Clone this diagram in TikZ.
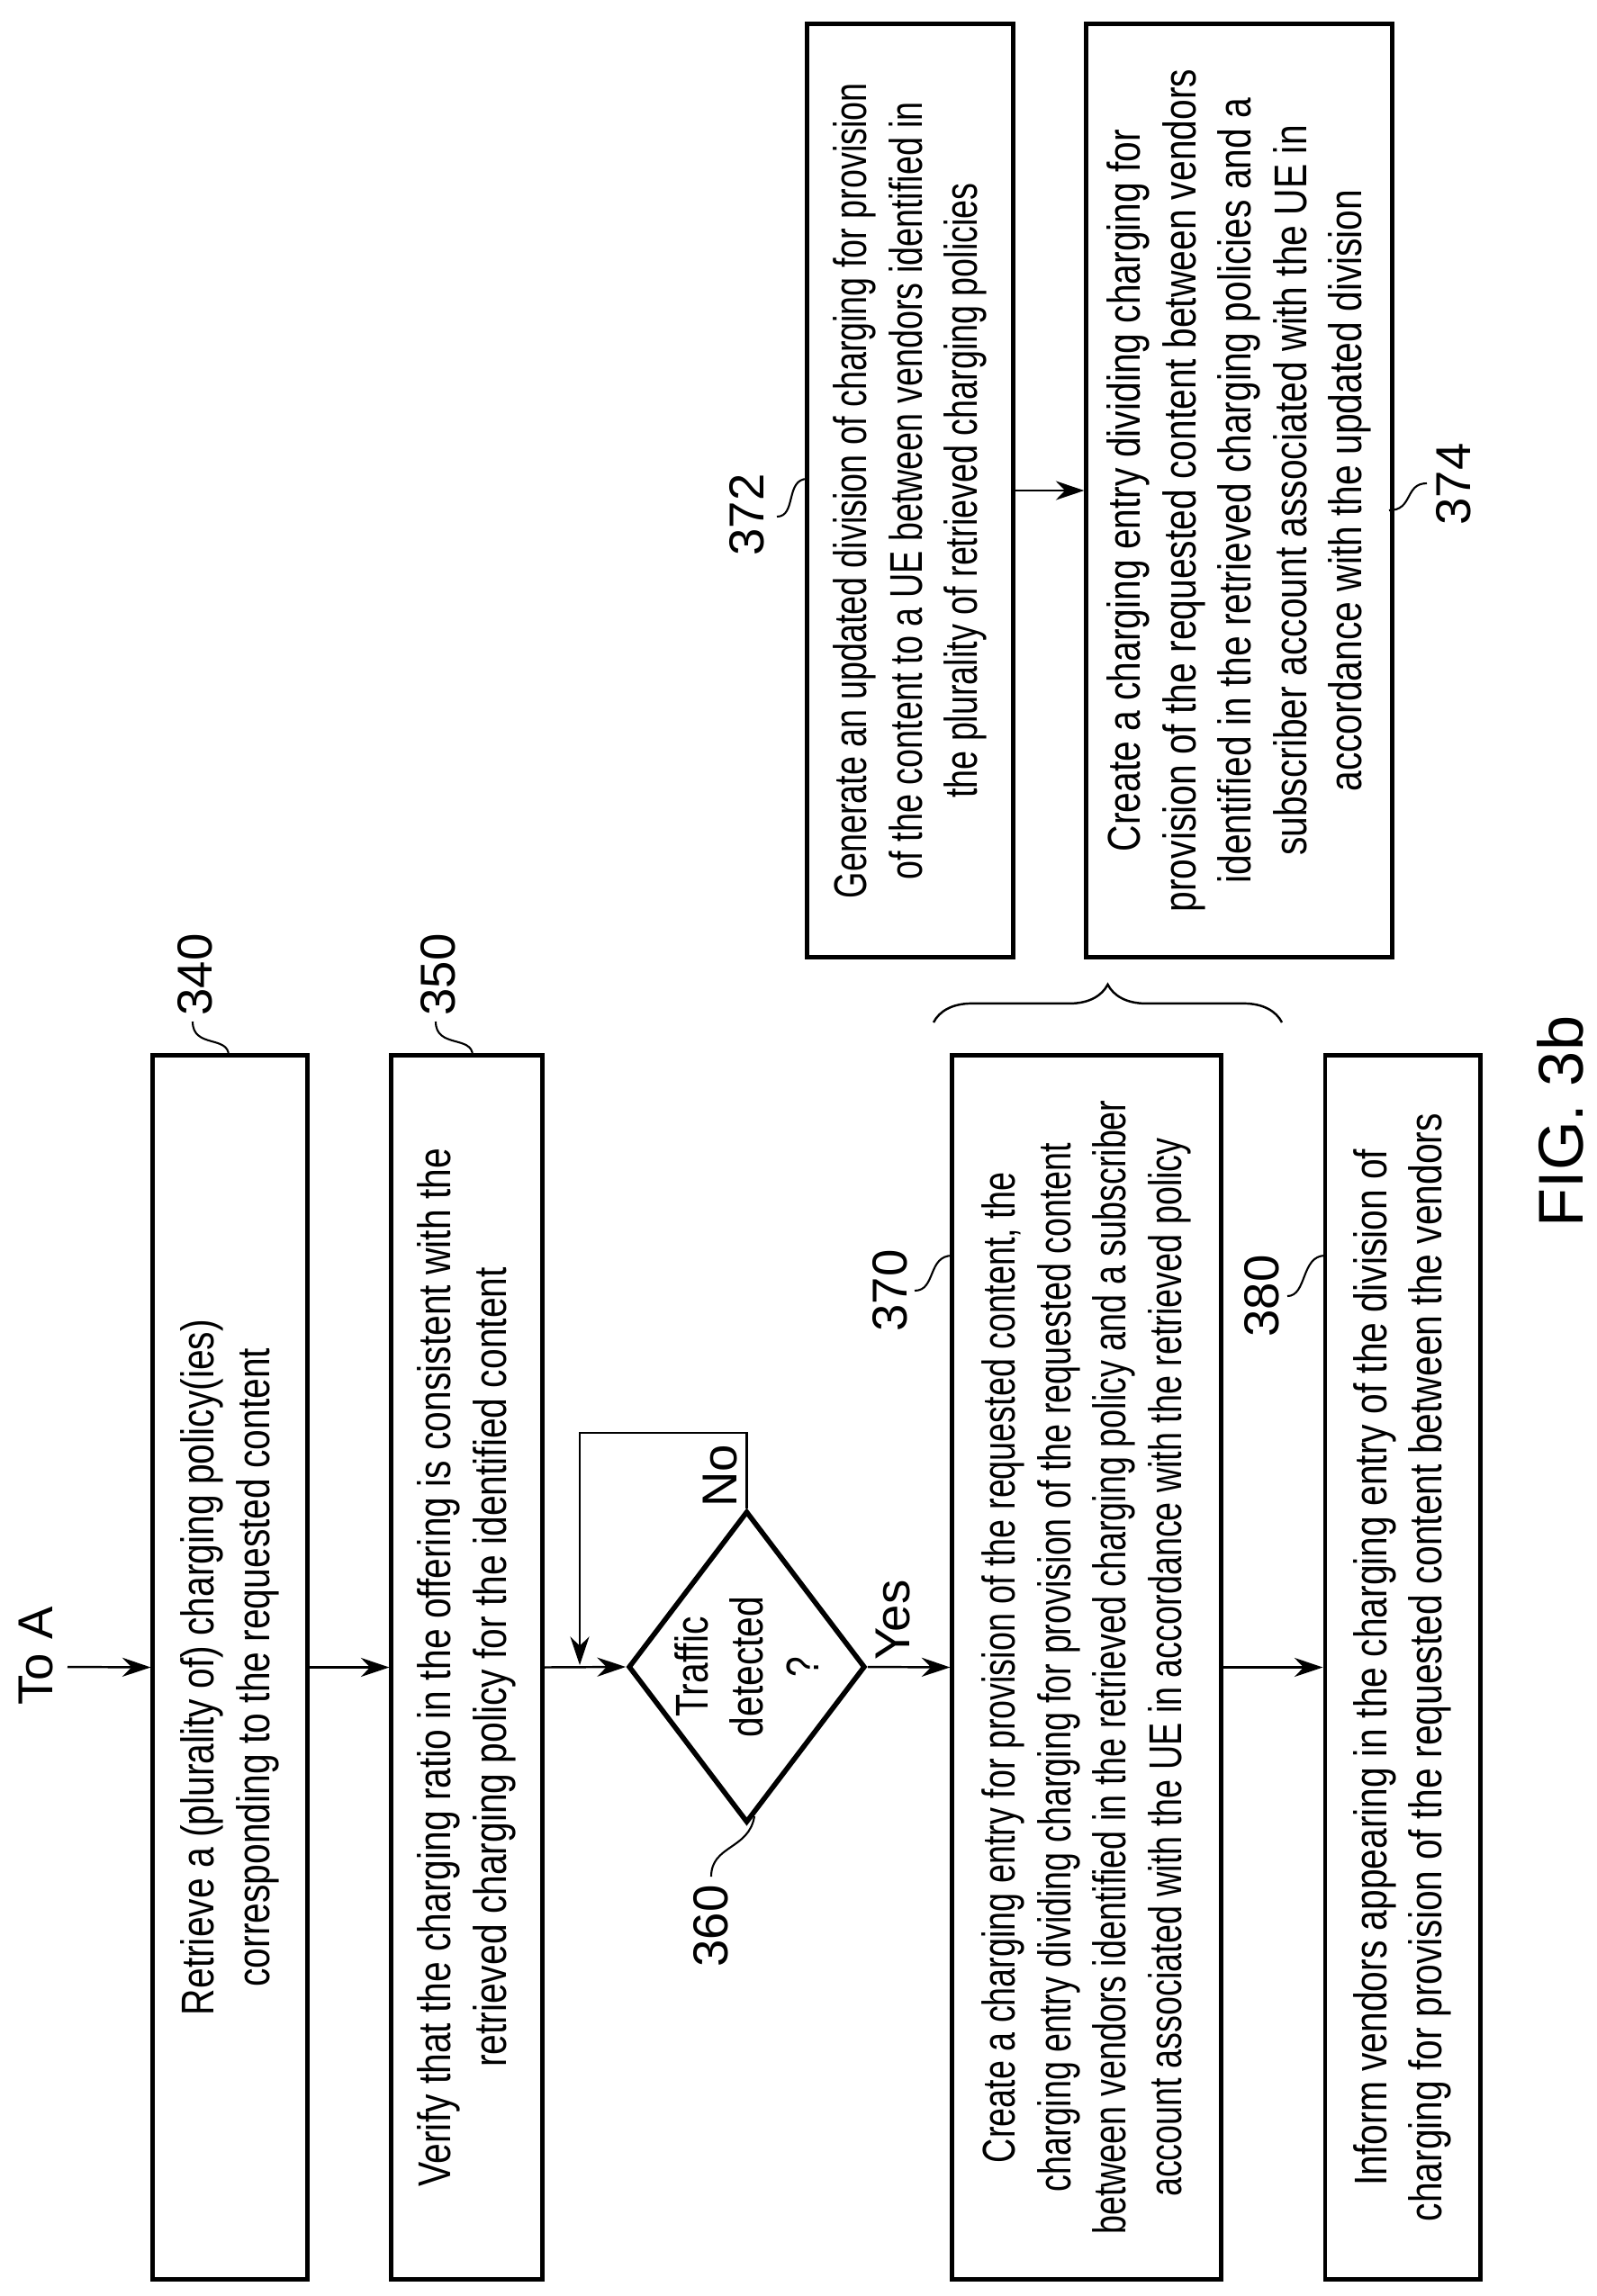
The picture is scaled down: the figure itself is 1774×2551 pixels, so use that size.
\documentclass[tikz,border=0pt]{standalone}
\usepackage{fontspec}
\setmainfont{Liberation Sans}
\newfontfamily\narrowf{Liberation Sans}[FakeStretch=0.8]
\newfontfamily\narrowg{Liberation Sans}[FakeStretch=0.74]
\usetikzlibrary{shapes.geometric,arrows.meta,decorations.pathreplacing}
\begin{document}
\begin{tikzpicture}[x=0.01cm,y=-0.01cm,
  box/.style={draw,line width=1.4pt,rotate=90,inner sep=0pt,align=center,
    font=\narrowf\fontsize{14.5}{17.5}\selectfont},
  boxg/.style={box,font=\narrowg\fontsize{14.5}{17.5}\selectfont},
  lab/.style={rotate=90,inner sep=1pt,font=\fontsize{15.5}{18}\selectfont},
  txt/.style={rotate=90,inner sep=1pt,align=center,font=\narrowf\fontsize{14.5}{17.5}\selectfont},
  arr/.style={line width=0.7pt,-{Stealth[length=9pt,width=6pt]}},
  lead/.style={line width=0.6pt}]
\useasboundingbox (0,0) rectangle (1774,2551);
% main column boxes
\node[box,minimum width=13.59cm,minimum height=1.71cm] (b340) at (255.5,1852.5)
 {Retrieve a (plurality of) charging policy(ies)\\corresponding to the requested content};
\node[box,minimum width=13.59cm,minimum height=1.67cm] (b350) at (518.5,1852.5)
 {Verify that the charging ratio in the offering is consistent with the\\retrieved charging policy for the identified content};
\node[draw,diamond,line width=1.6pt,minimum width=2.63cm,minimum height=3.46cm,inner sep=0pt] (d360) at (829.5,1852) {};
\node[txt] (t360) at (829.5,1852) {Traffic\\detected\\?};
\node[boxg,minimum width=13.59cm,minimum height=2.98cm] (b370) at (1207,1852.5)
 {Create a charging entry for provision of the requested content, the\\charging entry dividing charging for provision of the requested content\\between vendors identified in the retrieved charging policy and a subscriber\\account associated with the UE in accordance with the retrieved policy};
\node[box,minimum width=13.59cm,minimum height=1.72cm] (b380) at (1558,1852.5)
 {Inform vendors appearing in the charging entry of the division of\\charging for provision of the requested content between the vendors};
% side boxes
\node[boxg,minimum width=10.36cm,minimum height=2.28cm] (b372) at (1011,545)
 {Generate an updated division of charging for provision\\of the content to a UE between vendors identified in\\the plurality of retrieved charging policies};
\node[box,minimum width=10.36cm,minimum height=3.39cm] (b374) at (1376.5,545)
 {Create a charging entry dividing charging for\\provision of the requested content between vendors\\identified in the retrieved charging policies and a\\subscriber account associated with the UE in\\accordance with the updated division};
% brace
\draw[line width=0.7pt,decorate,decoration={brace,amplitude=12pt}] (1037,1136) -- (1424,1136) coordinate (brc);
% connectors
\coordinate (toa) at (75,1852);
\node[lab] (ta) at (40,1840) {To A};
\draw[arr] (toa) -- (b340.north);
\draw[arr] (b340.south) -- (b350.north);
\draw[arr] (b350.south) -- (d360.west);
\draw[arr] (d360.east) -- (b370.north);
\draw[arr] (b370.south) -- (b380.north);
\draw[arr] (b372.south) -- (b374.north);
\coordinate (lp) at (644,1850);
\draw[line width=0.7pt] (d360.north) |- (644,1592) -- (644,1700);
\draw[arr] (644,1690) -- (lp);
\node[lab] (no) at (800,1640) {No};
\node[lab] (yes) at (992,1800) {Yes};
% reference labels
\node[lab] (l340) at (217,1083) {340};
\draw[lead] (214,1135) .. controls (214,1165) and (254,1150) .. (254,1173);
\node[lab] (l350) at (487,1083) {350};
\draw[lead] (484,1135) .. controls (484,1165) and (525,1150) .. (525,1173);
\node[lab] (l360) at (790,2140) {360};
\draw[lead] (790,2085) .. controls (790,2050) and (832,2055) .. (838,2018);
\node[lab] (l370) at (989,1434) {370};
\draw[lead] (1016,1434) .. controls (1040,1434) and (1030,1395) .. (1058,1395);
\node[lab] (l380) at (1402,1440) {380};
\draw[lead] (1430,1440) .. controls (1452,1440) and (1445,1395) .. (1472,1395);
\node[lab] (l372) at (830,572) {372};
\draw[lead] (863,574) .. controls (885,574) and (872,532) .. (897,532);
\node[lab] (l374) at (1615,538) {374};
\draw[lead] (1585,537) .. controls (1560,537) and (1570,567) .. (1543,567);
\node[rotate=90,font=\fontsize{20}{24}\selectfont] (fig) at (1733,1246) {FIG. 3b};
\end{tikzpicture}
\end{document}
